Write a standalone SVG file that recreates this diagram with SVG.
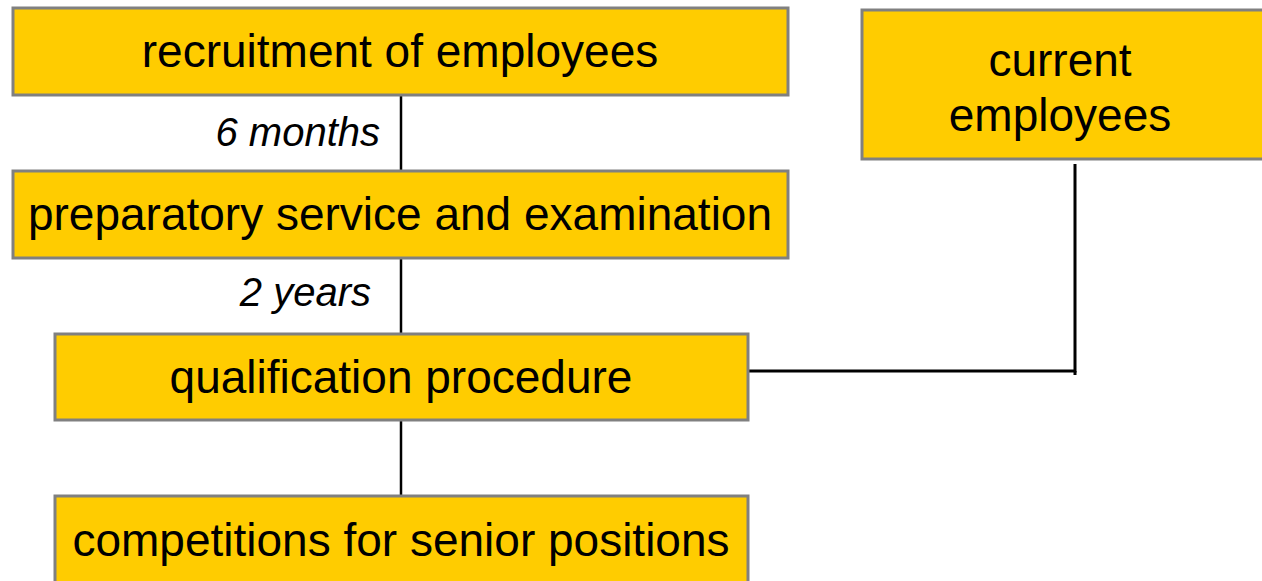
<svg xmlns="http://www.w3.org/2000/svg" width="1262" height="581" viewBox="0 0 1262 581">
<style>
.box{fill:#ffcc00;stroke:#808080;stroke-width:3}
.t{font-family:"Liberation Sans",Arial,sans-serif;font-size:46px;fill:#000;text-anchor:middle}
.l{font-family:"Liberation Sans",Arial,sans-serif;font-size:40px;font-style:italic;fill:#000;text-anchor:end}
.c{stroke:#000;fill:none}
</style>
<rect width="1262" height="581" fill="#fff"/>
<g id="connectors">
<line class="c" x1="401" y1="95" x2="401" y2="171" stroke-width="2.5"/>
<line class="c" x1="401" y1="258" x2="401" y2="334" stroke-width="2.5"/>
<line class="c" x1="401" y1="420" x2="401" y2="496" stroke-width="2.5"/>
<polyline class="c" points="748,371 1075,371 1075,164" stroke-width="3"/>
<line class="c" x1="1075" y1="371" x2="1075" y2="375" stroke-width="3"/>
<text class="l" x="380" y="146">6 months</text>
<text class="l" x="371" y="306">2 years</text>
</g>
<g id="recruitment">
<rect class="box" x="13" y="8" width="775" height="87"/>
<text class="t" x="400" y="67">recruitment of employees</text>
</g>
<g id="preparatory">
<rect class="box" x="13" y="171" width="775" height="87"/>
<text class="t" x="400" y="230">preparatory service and examination</text>
</g>
<g id="qualification">
<rect class="box" x="55" y="334" width="693" height="86"/>
<text class="t" x="401" y="393">qualification procedure</text>
</g>
<g id="competitions">
<rect class="box" x="55" y="496" width="693" height="100"/>
<text class="t" x="401" y="556">competitions for senior positions</text>
</g>
<g id="current">
<rect class="box" x="862" y="10" width="404" height="149"/>
<text class="t" x="1060" y="76">current</text>
<text class="t" x="1060" y="131">employees</text>
</g>
</svg>
